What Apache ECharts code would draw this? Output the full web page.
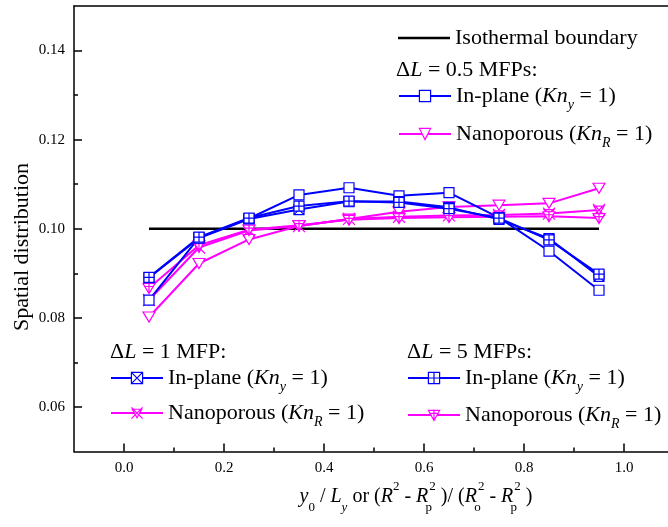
<!DOCTYPE html>
<html>
<head>
<meta charset="utf-8">
<script src="https://cdn.jsdelivr.net/npm/echarts@6/dist/echarts.min.js"></script>
<style>
  html, body { margin: 0; padding: 0; background: #fff; }
  #chart { width: 668px; height: 527px; }
</style>
</head>
<body>
<div id="chart"></div>
<script>
// data
const xValues = [0.05, 0.15, 0.25, 0.35, 0.45, 0.55, 0.65, 0.75, 0.85, 0.95];
const inPlaneHalf = [0.0840, 0.0980, 0.1023, 0.1076, 0.1092, 0.1074, 0.1081, 0.1025, 0.0950, 0.0862];
const inPlaneOne = [0.0890, 0.0979, 0.1022, 0.1043, 0.1061, 0.1061, 0.1048, 0.1021, 0.0978, 0.0893];
const inPlaneFive = [0.0891, 0.0981, 0.1024, 0.1051, 0.1062, 0.1059, 0.1045, 0.1024, 0.0975, 0.0898];
const nanoHalf = [0.0802, 0.0922, 0.0976, 0.1006, 0.1022, 0.1038, 0.1049, 0.1053, 0.1057, 0.1091];
const nanoOne = [0.0840, 0.0958, 0.0996, 0.1006, 0.1022, 0.1027, 0.1030, 0.1031, 0.1034, 0.1042];
const nanoFive = [0.0867, 0.0963, 0.0998, 0.1008, 0.1020, 0.1024, 0.1026, 0.1027, 0.1028, 0.1024];
const isoX = [0.05, 0.95];
const isoY = [0.10, 0.10];

const xMajorTicks = [0, 0.2, 0.4, 0.6, 0.8, 1.0];
const xMinorTicks = [0.1, 0.3, 0.5, 0.7, 0.9];
const yMajorTicks = [0.06, 0.08, 0.10, 0.12, 0.14];
const yMinorTicks = [0.07, 0.09, 0.11, 0.13];

const BLUE = '#0000ff';
const PINK = '#ff00ff';
const serif = 'Liberation Serif';

const SYM = {
    square: 'path://M0,0L10,0L10,10L0,10Z',
    squareX: 'path://M0,0L10,0L10,10L0,10Z M0,0L10,10 M10,0L0,10',
    squarePlus: 'path://M0,0L10,0L10,10L0,10Z M5,0L5,10 M0,5L10,5',
    tri: 'path://M0,0L12,0L6,10Z',
    triX: 'path://M1,2L11,2L6,11Z M0,0L12,12 M12,0L0,12',
    triPlus: 'path://M0,1L12,1L6,11Z M6,0L6,11 M1,4L11,4'
};

function pairs(xs, ys) {
    return xs.map((x, i) => [x, ys[i]]);
}

function lineSeries(name, ys, color, symbol, size) {
    return {
        name: name,
        type: 'line',
        data: pairs(xValues, ys),
        symbol: symbol,
        symbolSize: size,
        showAllSymbol: true,
        lineStyle: {color: color, width: 2},
        itemStyle: {color: '#fff', borderColor: color, borderWidth: 1.2},
        emphasis: {disabled: true}
    };
}

const legendLabels = {
    'iso': 'Isothermal boundary',
    'ip05': 'In-plane ({i|Kn}{s|y} = 1)',
    'np05': 'Nanoporous ({i|Kn}{s|R} = 1)',
    'ip1': 'In-plane ({i|Kn}{s|y} = 1)',
    'np1': 'Nanoporous ({i|Kn}{s|R} = 1)',
    'ip5': 'In-plane ({i|Kn}{s|y} = 1)',
    'np5': 'Nanoporous ({i|Kn}{s|R} = 1)'
};

const legendText = {
    color: '#000',
    fontFamily: serif,
    fontSize: 22,
    lineHeight: 32,
    rich: {
        i: {fontStyle: 'italic', fontFamily: serif, fontSize: 22, lineHeight: 32, color: '#000'},
        s: {fontStyle: 'italic', fontFamily: serif, fontSize: 14, lineHeight: 14, verticalAlign: 'bottom', color: '#000'}
    }
};

// legend entry with the same open marker as the plot
function entry(name, color) {
    return {name: name, itemStyle: {color: '#fff', borderColor: color, borderWidth: 1.2}};
}

function legend(names, left, top, gap, itemHeight) {
    return {
        orient: 'vertical',
        left: left,
        top: top,
        padding: 0,
        itemGap: gap,
        itemWidth: 52,
        itemHeight: itemHeight || 14,
        selectedMode: false,
        data: names,
        formatter: (n) => legendLabels[n],
        textStyle: legendText
    };
}

const headerRich = {
    n: {fontFamily: serif, fontSize: 22, color: '#000'},
    i: {fontFamily: serif, fontSize: 22, fontStyle: 'italic', color: '#000'}
};

function header(text, x, y) {
    return {
        type: 'text',
        x: x,
        y: y,
        style: {text: text, rich: headerRich, verticalAlign: 'middle', align: 'left',
            fontFamily: serif, fontSize: 22, fill: '#000'}
    };
}

const titleRich = {
    t: {fontFamily: serif, fontSize: 20, lineHeight: 34, color: '#000'},
    ti: {fontFamily: serif, fontSize: 20, fontStyle: 'italic', lineHeight: 34, color: '#000'},
    sb: {fontFamily: serif, fontSize: 13, lineHeight: 14, verticalAlign: 'bottom', color: '#000'},
    sbi: {fontFamily: serif, fontSize: 13, fontStyle: 'italic', lineHeight: 14, verticalAlign: 'bottom', color: '#000'},
    sbz: {fontFamily: serif, fontSize: 13, lineHeight: 14, verticalAlign: 'bottom', width: 1, color: '#000'},
    sp: {fontFamily: serif, fontSize: 13, lineHeight: 14, verticalAlign: 'top', color: '#000'}
};

const axisLine = {onZero: false, lineStyle: {color: '#000', width: 1.5}};
const tickStyle = {color: '#000', width: 1.5};
const labelStyle = {color: '#000', fontFamily: serif, fontSize: 15, margin: 9};

const chart = echarts.init(document.getElementById('chart'), null, {renderer: 'canvas'});
chart.setOption({
    animation: false,
    backgroundColor: '#fff',
    grid: {left: 74, top: 6, right: -6, bottom: 75.5, outerBoundsMode: 'none'},
    xAxis: [
        {
            type: 'value', min: -0.1, max: 1.1, position: 'bottom',
            axisLine: axisLine,
            axisTick: {inside: true, length: 8, customValues: xMajorTicks, lineStyle: tickStyle},
            axisLabel: Object.assign({customValues: xMajorTicks, formatter: (v) => v.toFixed(1)}, labelStyle),
            splitLine: {show: false}
        },
        {
            type: 'value', min: -0.1, max: 1.1, position: 'bottom',
            axisLine: {show: false, onZero: false},
            axisTick: {inside: true, length: 4, customValues: xMinorTicks, lineStyle: tickStyle},
            axisLabel: {show: false},
            splitLine: {show: false}
        },
        {
            type: 'value', min: -0.1, max: 1.1, position: 'top',
            axisLine: axisLine,
            axisTick: {show: false},
            axisLabel: {show: false},
            splitLine: {show: false}
        }
    ],
    yAxis: [
        {
            type: 'value', min: 0.05, max: 0.15, position: 'left',
            axisLine: axisLine,
            axisTick: {inside: true, length: 8, customValues: yMajorTicks, lineStyle: tickStyle},
            axisLabel: Object.assign({customValues: yMajorTicks, formatter: (v) => v.toFixed(2)}, labelStyle),
            splitLine: {show: false}
        },
        {
            type: 'value', min: 0.05, max: 0.15, position: 'left',
            axisLine: {show: false, onZero: false},
            axisTick: {inside: true, length: 4, customValues: yMinorTicks, lineStyle: tickStyle},
            axisLabel: {show: false},
            splitLine: {show: false}
        }
    ],
    legend: [
        legend([{name: 'iso', icon: 'rect'}], 398, 22, 0, 2.5),
        legend([entry('ip05', BLUE), entry('np05', PINK)], 398, 80, 6),
        legend([entry('ip1', BLUE), entry('np1', PINK)], 110, 362, 3),
        legend([entry('ip5', BLUE), entry('np5', PINK)], 407, 362, 5)
    ],
    graphic: [
        header('{n|Δ}{i|L}{n| = 0.5 MFPs:}', 396, 70),
        header('{n|Δ}{i|L}{n| = 1 MFP:}', 110, 352),
        header('{n|Δ}{i|L}{n| = 5 MFPs:}', 407, 352),
        {
            type: 'text',
            x: 22, y: 247,
            rotation: Math.PI / 2,
            style: {text: 'Spatial distribution', fontFamily: serif, fontSize: 22, fill: '#000',
                align: 'center', verticalAlign: 'middle'}
        },
        {
            type: 'text',
            x: 416, y: 497,
            style: {
                text: '{ti|y}{sb|0}{t| / }{ti|L}{sbi|y}{t| or (}{ti|R}{sp|2}{t| - }{ti|R}{sbz|p}{sp|2}{t| )/ (}{ti|R}{sbz|o}{sp|2}{t| - }{ti|R}{sbz|p}{sp|2}{t| )}',
                rich: titleRich,
                align: 'center',
                verticalAlign: 'middle',
                fontFamily: serif, fontSize: 20, fill: '#000'
            }
        }
    ],
    series: [
        {
            name: 'iso',
            type: 'line',
            data: pairs(isoX, isoY),
            symbol: 'none',
            lineStyle: {color: '#000', width: 2.5},
            itemStyle: {color: '#000'},
            emphasis: {disabled: true}
        },
        lineSeries('np05', nanoHalf, PINK, SYM.tri, [12, 10]),
        lineSeries('np1', nanoOne, PINK, SYM.triX, [12, 12]),
        lineSeries('np5', nanoFive, PINK, SYM.triPlus, [12, 11]),
        lineSeries('ip05', inPlaneHalf, BLUE, SYM.square, 10),
        lineSeries('ip1', inPlaneOne, BLUE, SYM.squareX, 10),
        lineSeries('ip5', inPlaneFive, BLUE, SYM.squarePlus, 10)
    ]
});
</script>
</body>
</html>
